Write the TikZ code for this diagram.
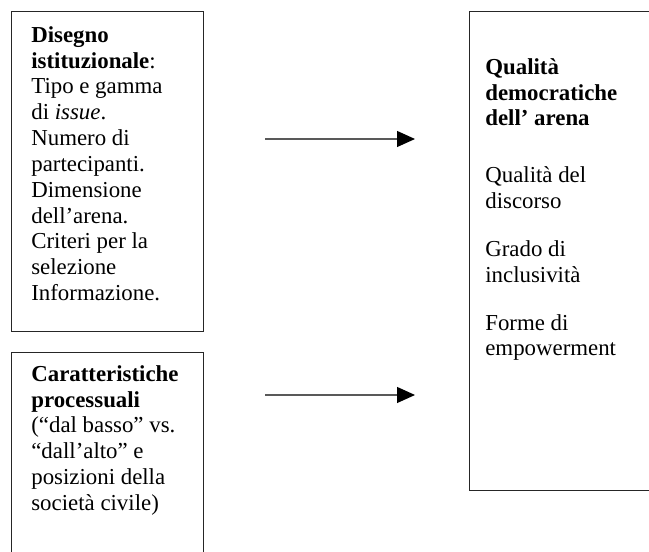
\documentclass[tikz,border=0pt]{standalone}
\usepackage{fontspec}
\setmainfont{Liberation Serif}
\usetikzlibrary{arrows.meta, positioning}
\tikzset{
  panel/.style={draw=black!85, line width=0.7pt, anchor=north west, inner sep=0pt},
  panel text/.style={align=left, inner sep=0pt, font=\fontsize{13}{14.7}\selectfont},
  flow/.style={draw=black!65, line width=0.7pt, -{Triangle[length=0.36cm, width=0.32cm, black]}}
}
\begin{document}
\begin{tikzpicture}[node distance=0.3cm]
\useasboundingbox (0,0) rectangle (12.98,-11.04);
% the three boxes
\node[panel, minimum width=3.84cm, minimum height=6.40cm] (design) at (0.22,-0.22) {};
\node[panel, minimum width=3.84cm, minimum height=4.40cm] (process) at (0.22,-7.04) {};
\node[panel, minimum width=4.00cm, minimum height=9.58cm] (quality) at (9.38,-0.22) {};
% texts
\node[panel text, below right=0.30cm and 0.40cm of design.north west] (design text)
  {\textbf{Disegno}\\\textbf{istituzionale}:\\Tipo e gamma\\di \textit{issue}.\\Numero di\\partecipanti.\\Dimensione\\dell’arena.\\Criteri per la\\selezione\\Informazione.};
\node[panel text, below right=0.26cm and 0.40cm of process.north west] (process text)
  {\textbf{Caratteristiche}\\\textbf{processuali}\\(“dal basso” vs.\\“dall’alto” e\\posizioni della\\società civile)};
\node[panel text, below right=0.94cm and 0.32cm of quality.north west] (quality text)
  {\textbf{Qualità}\\\textbf{democratiche}\\\textbf{dell’ arena}\\[0.62cm]Qualità del\\discorso\\[0.44cm]Grado di\\inclusività\\[0.44cm]Forme di\\empowerment};
% arrows
\coordinate (design out) at (5.30,-2.78);
\coordinate (quality in a) at (8.30,-2.78);
\coordinate (process out) at (5.30,-7.90);
\coordinate (quality in b) at (8.30,-7.90);
\draw[flow] (design out) -- (quality in a);
\draw[flow] (process out) -- (quality in b);
\end{tikzpicture}
\end{document}
